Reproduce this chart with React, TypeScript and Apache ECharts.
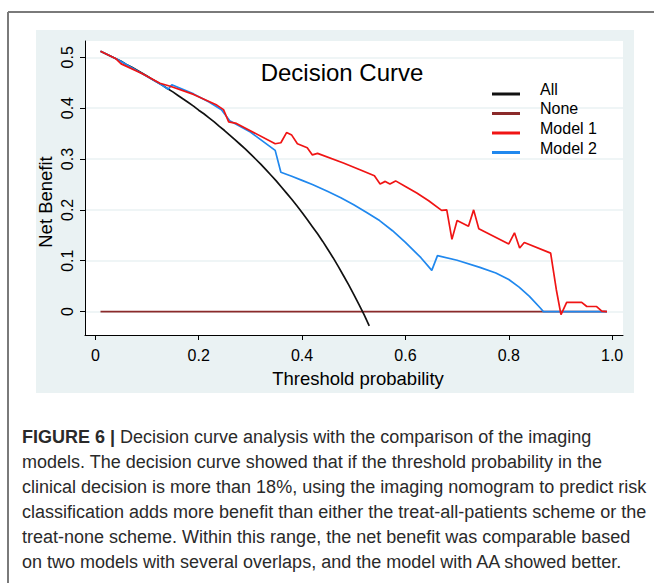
import React, { useEffect, useRef } from "react";
import * as echarts from "echarts";

const allX = [0.01, 0.02, 0.03, 0.04, 0.05, 0.06, 0.07, 0.08, 0.09, 0.1, 0.11, 0.12, 0.13, 0.14, 0.15, 0.16, 0.17, 0.18, 0.19, 0.2, 0.21, 0.22, 0.23, 0.24, 0.25, 0.26, 0.27, 0.28, 0.29, 0.3, 0.31, 0.32, 0.33, 0.34, 0.35, 0.36, 0.37, 0.38, 0.39, 0.4, 0.41, 0.42, 0.43, 0.44, 0.45, 0.46, 0.47, 0.48, 0.49, 0.5, 0.51, 0.52, 0.53];
const allY = [0.512, 0.507, 0.502, 0.497, 0.492, 0.486, 0.481, 0.475, 0.469, 0.463, 0.457, 0.451, 0.445, 0.438, 0.432, 0.425, 0.418, 0.411, 0.404, 0.396, 0.389, 0.381, 0.373, 0.364, 0.356, 0.347, 0.338, 0.329, 0.32, 0.31, 0.3, 0.29, 0.279, 0.268, 0.257, 0.245, 0.233, 0.221, 0.208, 0.195, 0.181, 0.167, 0.153, 0.138, 0.122, 0.106, 0.089, 0.071, 0.053, 0.034, 0.014, -0.006, -0.028];

const noneX = [0.01, 0.99];
const noneY = [0, 0];

const model1X = [0.01, 0.04, 0.05, 0.09, 0.125, 0.145, 0.19, 0.235, 0.248, 0.258, 0.273, 0.348, 0.359, 0.37, 0.38, 0.391, 0.41, 0.42, 0.43, 0.48, 0.512, 0.54, 0.551, 0.561, 0.57, 0.581, 0.6, 0.622, 0.645, 0.67, 0.68, 0.69, 0.7, 0.722, 0.732, 0.742, 0.8, 0.811, 0.821, 0.83, 0.881, 0.892, 0.901, 0.912, 0.941, 0.951, 0.97, 0.98, 0.99];
const model1Y = [0.512, 0.497, 0.487, 0.468, 0.449, 0.443, 0.427, 0.406, 0.397, 0.373, 0.37, 0.33, 0.332, 0.352, 0.347, 0.33, 0.322, 0.308, 0.311, 0.292, 0.279, 0.267, 0.251, 0.256, 0.251, 0.257, 0.246, 0.233, 0.218, 0.199, 0.2, 0.142, 0.179, 0.168, 0.2, 0.163, 0.133, 0.155, 0.125, 0.136, 0.115, 0.043, -0.006, 0.018, 0.018, 0.01, 0.01, 0.001, 0.0];

const model2X = [0.01, 0.04, 0.044, 0.09, 0.128, 0.141, 0.148, 0.19, 0.22, 0.244, 0.26, 0.3, 0.348, 0.359, 0.38, 0.4, 0.42, 0.45, 0.475, 0.5, 0.525, 0.55, 0.575, 0.6, 0.63, 0.651, 0.662, 0.7, 0.744, 0.775, 0.8, 0.82, 0.84, 0.861, 0.867, 0.99];
const model2Y = [0.512, 0.497, 0.495, 0.468, 0.446, 0.437, 0.446, 0.428, 0.412, 0.397, 0.375, 0.353, 0.317, 0.274, 0.266, 0.258, 0.25, 0.236, 0.224, 0.21, 0.195, 0.179, 0.159, 0.136, 0.106, 0.081, 0.11, 0.101, 0.087, 0.076, 0.063, 0.048, 0.03, 0.007, 0.0, 0.0];

const xTicks = [0, 0.2, 0.4, 0.6, 0.8, 1.0];
const yTicks = [0, 0.1, 0.2, 0.3, 0.4, 0.5];

const seriesNames = ["All", "None", "Model 1", "Model 2"];
const seriesColors = ["#111111", "#8b2a2a", "#f01414", "#2088ee"];

const titleText = "Decision Curve";
const xTitle = "Threshold probability";
const yTitle = "Net Benefit";

const captionLines = [
  "{b|FIGURE 6 |} Decision curve analysis with the comparison of the imaging",
  "models. The decision curve showed that if the threshold probability in the",
  "clinical decision is more than 18%, using the imaging nomogram to predict risk",
  "classification adds more benefit than either the treat-all-patients scheme or the",
  "treat-none scheme. Within this range, the net benefit was comparable based",
  "on two models with several overlaps, and the model with AA showed better.",
];

const FONT = "'Liberation Sans', Arial, Helvetica, sans-serif";

const pairs = (xs: number[], ys: number[]) => xs.map((x, i) => [x, ys[i]]);

export default function App() {
  const ref = useRef<HTMLDivElement>(null);

  useEffect(() => {
    if (!ref.current) return;
    const chart = echarts.init(ref.current, undefined, { renderer: "svg" });

    const seriesData = [
      pairs(noneX, noneY),
      pairs(allX, allY),
      pairs(model2X, model2Y),
      pairs(model1X, model1Y),
    ];
    const order = [1, 0, 3, 2]; // None, All, Model 2, Model 1 -> indices into names

    const legendLineY = [94, 113.5, 133, 152.5];
    const legendTextY = [89, 108.5, 128, 148];

    const graphic: any[] = [
      {
        type: "rect",
        z: -10,
        silent: true,
        shape: { x: 36, y: 30, width: 598, height: 363 },
        style: { fill: "#eaf2f3" },
      },
      {
        type: "line",
        z: 100,
        silent: true,
        shape: { x1: 8, y1: 12, x2: 654, y2: 12 },
        style: { stroke: "#7a7a7a", lineWidth: 2 },
      },
      {
        type: "line",
        z: 100,
        silent: true,
        shape: { x1: 8, y1: 12, x2: 8, y2: 583 },
        style: { stroke: "#7a7a7a", lineWidth: 2 },
      },
      {
        type: "text",
        z: 100,
        x: 342,
        y: 72,
        style: {
          text: titleText,
          fontSize: 24,
          fontFamily: FONT,
          fill: "#000",
          align: "center",
          verticalAlign: "middle",
        },
      },
      {
        type: "text",
        z: 100,
        x: 358,
        y: 378,
        style: {
          text: xTitle,
          fontSize: 18.5,
          fontFamily: FONT,
          fill: "#000",
          align: "center",
          verticalAlign: "middle",
        },
      },
      {
        type: "text",
        z: 100,
        x: 45,
        y: 202,
        rotation: Math.PI / 2,
        style: {
          text: yTitle,
          fontSize: 18.5,
          fontFamily: FONT,
          fill: "#000",
          align: "center",
          verticalAlign: "middle",
        },
      },
    ];

    seriesNames.forEach((name, i) => {
      graphic.push({
        type: "line",
        z: 100,
        silent: true,
        shape: { x1: 492, y1: legendLineY[i], x2: 520, y2: legendLineY[i] },
        style: { stroke: seriesColors[i], lineWidth: 3 },
      });
      graphic.push({
        type: "text",
        z: 100,
        x: 540,
        y: legendTextY[i],
        style: {
          text: name,
          fontSize: 16,
          fontFamily: FONT,
          fill: "#000",
          align: "left",
          verticalAlign: "middle",
        },
      });
    });

    captionLines.forEach((line, i) => {
      graphic.push({
        type: "text",
        z: 100,
        x: 22,
        y: 437 + i * 25,
        style: {
          text: line,
          fontSize: 18,
          fontFamily: FONT,
          fill: "#2a2a2a",
          align: "left",
          verticalAlign: "middle",
          rich: {
            b: {
              fontSize: 18,
              fontFamily: FONT,
              fontWeight: "bold",
              fill: "#2a2a2a",
            },
          },
        },
      });
    });

    const option: any = {
      animation: false,
      backgroundColor: "#ffffff",
      textStyle: { fontFamily: FONT },
      grid: {
        left: 85,
        right: 31,
        top: 41,
        bottom: 248,
        show: true,
        backgroundColor: "#ffffff",
        borderWidth: 0,
        containLabel: false,
      },
      xAxis: {
        type: "value",
        min: -0.02,
        max: 1.021,
        axisLine: { show: true, onZero: false, lineStyle: { color: "#000", width: 1 } },
        axisTick: { show: true, customValues: xTicks, length: 5, lineStyle: { color: "#000", width: 1 } },
        axisLabel: {
          customValues: xTicks,
          formatter: (v: number) => (v === 0 ? "0" : v.toFixed(1)),
          fontSize: 16,
          color: "#000",
          margin: 12,
          fontFamily: FONT,
        },
        splitLine: { show: false },
      },
      yAxis: {
        type: "value",
        min: -0.046,
        max: 0.532,
        axisLine: { show: true, onZero: false, lineStyle: { color: "#000", width: 1 } },
        axisTick: { show: true, customValues: yTicks, length: 5, lineStyle: { color: "#000", width: 1 } },
        axisLabel: {
          customValues: yTicks,
          formatter: (v: number) => (v === 0 ? "0" : v.toFixed(1)),
          rotate: 90,
          align: "center",
          verticalAlign: "bottom",
          fontSize: 16,
          color: "#000",
          margin: 10,
          fontFamily: FONT,
        },
        splitLine: { show: true, lineStyle: { color: "#eaf2f3", width: 1.6 } },
      },
      series: seriesData.map((data, k) => {
        const idx = order[k];
        return {
          name: seriesNames[idx],
          type: "line",
          data,
          showSymbol: false,
          symbol: "none",
          silent: true,
          lineStyle: { color: seriesColors[idx], width: idx === 1 ? 1.6 : 1.7 },
          itemStyle: { color: seriesColors[idx] },
        };
      }),
      graphic,
    };

    chart.setOption(option);
    return () => chart.dispose();
  }, []);

  return (
    <div
      ref={ref}
      style={{ position: "fixed", left: 0, top: 0, width: 654, height: 583 }}
    />
  );
}
